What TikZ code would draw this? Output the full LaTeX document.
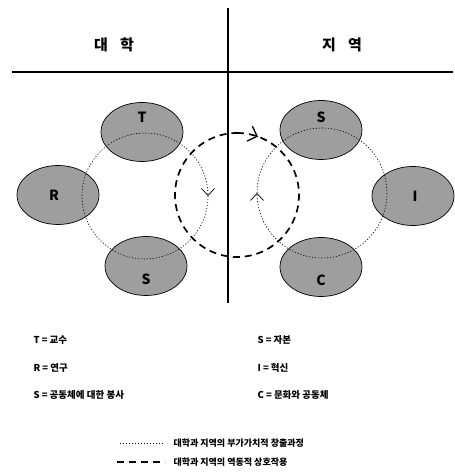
\documentclass[tikz,border=0pt]{standalone}
\usepackage{fontspec}
\newfontfamily\kr{Noto Sans CJK KR}
\usetikzlibrary{arrows.meta, shapes.geometric, decorations.markings}

\begin{document}
\begin{tikzpicture}[x=1pt, y=1pt, font=\kr,
  e/.style={draw, ellipse, fill=black!38, line width=0.7pt, minimum width=82pt, minimum height=59pt, inner sep=0pt},
  ltr/.style={font=\kr\bfseries\fontsize{14}{16}\selectfont},
  hd/.style={font=\kr\bfseries\fontsize{15}{18}\selectfont},
  lg/.style={anchor=west, font=\kr\bfseries\fontsize{9.5}{11}\selectfont},
  bl/.style={anchor=west, font=\kr\bfseries\fontsize{9}{11}\selectfont},
  dot/.style={line width=0.6pt, dash pattern=on 1.2pt off 1.8pt},
  thick dash/.style={line width=1.7pt, dash pattern=on 7pt off 5pt},
  markat/.style n args={4}{postaction=decorate, decoration={markings, mark=at position #1 with {\arrow[line width=#2]{Straight Barb[length=#3, width=#4]}}}}]
  \useasboundingbox[fill=white] (0,0) rectangle (455,474);
  \coordinate (vt) at (228,466); \coordinate (vb) at (228,171);
  \coordinate (hl) at (12,402); \coordinate (hr) at (453,402);
  \draw[line width=1.6pt] (vt) -- (vb);
  \draw[line width=1.6pt] (hl) -- (hr);
  \node[hd] (uni) at (114,429) {대\hspace{0.8em}학};
  \node[hd] (reg) at (342,429) {지\hspace{0.8em}역};
  \node[e] (T) at (142,342) {};
  \node[e] (R) at (58,279) {};
  \node[e] (S1) at (146,208) {};
  \node[e] (S2) at (321,344) {};
  \node[e] (I) at (413,278) {};
  \node[e] (C) at (321,207) {};
  \coordinate (cl) at (145,278);
  \coordinate (cr) at (322,281);
  \coordinate (cm) at (237,279);
  \draw[dot, markat={0.25}{0.7pt}{7pt}{13pt}] (cl) ++(90:63) arc[start angle=90, end angle=-270, radius=63];
  \draw[dot, markat={0.75}{0.7pt}{7pt}{13pt}] (cr) ++(90:65) arc[start angle=90, end angle=-270, radius=65];
  \draw[thick dash, markat={0.055}{1.3pt}{8pt}{16pt}] (cm) ++(90:62) arc[start angle=90, end angle=-270, radius=62];
  \node[ltr] (tT) at ([yshift=15pt]T.center) {T};
  \node[ltr] (tR) at ([xshift=-4pt]R.center) {R};
  \node[ltr] (tS1) at ([yshift=-13pt]S1.center) {S};
  \node[ltr] (tS2) at ([yshift=13pt]S2.center) {S};
  \node[ltr] (tI) at ([xshift=2pt]I.center) {I};
  \node[ltr] (tC) at ([yshift=-13pt]C.center) {C};
  \node[lg] (lT) at (30,134) {T = 교수};
  \node[lg] (lR) at (30,106) {R = 연구};
  \node[lg] (lS1) at (30,79) {S = 공동체에 대한 봉사};
  \node[lg] (lS2) at (254,134) {S = 자본};
  \node[lg] (lI) at (254,106) {I = 혁신};
  \node[lg] (lC) at (254,79) {C = 문화와 공동체};
  \node[bl] (n1) at (170,31) {대학과 지역의 부가가치적 창출과정};
  \node[bl] (n2) at (170,12) {대학과 지역의 역동적 상호작용};
  \draw[dot] ([xshift=-50pt]n1.west) -- ([xshift=-5pt]n1.west);
  \draw[line width=1.7pt, dash pattern=on 7pt off 5pt] ([xshift=-53pt]n2.west) -- ([xshift=-5pt]n2.west);
\end{tikzpicture}
\end{document}
